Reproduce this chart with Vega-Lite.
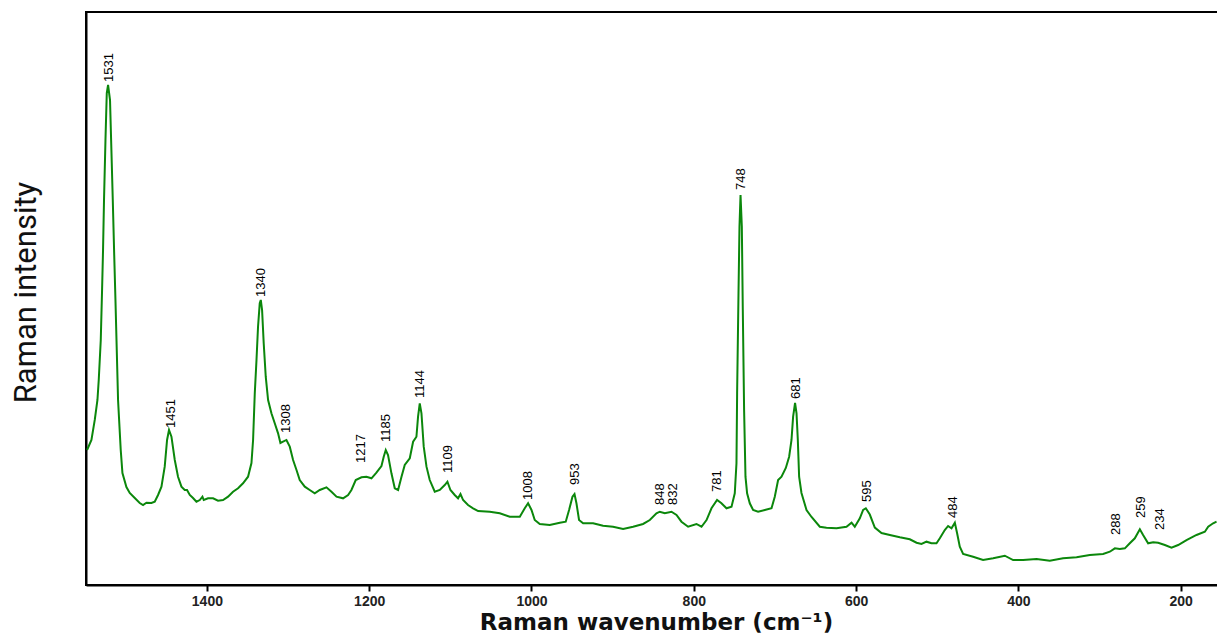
{
  "$schema": "https://vega.github.io/schema/vega-lite/v6.json",
  "width": 1132,
  "height": 573,
  "autosize": {"type": "none"},
  "padding": {"left": 86, "top": 12, "right": 0, "bottom": 55},
  "background": "white",
  "config": {
    "view": {"stroke": "black", "strokeWidth": 2},
    "axis": {"grid": false}
  },
  "datasets": {
    "spectrum": [
      {"wn":1547.7,"I":23.56},{"wn":1542.3,"I":25.31},{"wn":1538.2,"I":28.80},{"wn":1534.9,"I":32.29},{"wn":1533.3,"I":35.78},
      {"wn":1530.8,"I":42.76},{"wn":1529.2,"I":51.48},{"wn":1528.0,"I":58.46},{"wn":1526.8,"I":67.19},{"wn":1525.0,"I":77.66},
      {"wn":1523.4,"I":85.86},{"wn":1521.8,"I":87.26},{"wn":1519.4,"I":84.64},{"wn":1517.7,"I":75.92},{"wn":1516.0,"I":67.19},
      {"wn":1514.4,"I":58.46},{"wn":1512.7,"I":49.74},{"wn":1511.1,"I":41.01},{"wn":1509.5,"I":32.29},{"wn":1506.2,"I":23.56},
      {"wn":1504.1,"I":19.55},{"wn":1499.2,"I":17.10},{"wn":1495.1,"I":16.06},{"wn":1488.9,"I":15.18},{"wn":1482.8,"I":14.31},
      {"wn":1478.7,"I":13.96},{"wn":1474.5,"I":14.36},{"wn":1468.4,"I":14.31},{"wn":1464.3,"I":14.54},{"wn":1460.2,"I":15.71},
      {"wn":1456.0,"I":17.16},{"wn":1452.0,"I":20.65},{"wn":1449.1,"I":25.31},{"wn":1446.7,"I":27.05},{"wn":1443.7,"I":25.88},
      {"wn":1439.6,"I":21.82},{"wn":1435.6,"I":18.90},{"wn":1431.4,"I":17.16},{"wn":1427.3,"I":16.58},{"wn":1424.5,"I":16.58},
      {"wn":1421.1,"I":15.71},{"wn":1417.1,"I":15.18},{"wn":1412.9,"I":14.54},{"wn":1408.8,"I":14.83},{"wn":1405.5,"I":15.41},
      {"wn":1403.9,"I":14.83},{"wn":1398.6,"I":15.13},{"wn":1392.4,"I":15.13},{"wn":1386.3,"I":14.71},{"wn":1380.1,"I":14.83},
      {"wn":1373.9,"I":15.41},{"wn":1367.8,"I":16.28},{"wn":1361.6,"I":16.88},{"wn":1355.5,"I":17.75},{"wn":1349.3,"I":18.90},
      {"wn":1345.1,"I":21.29},{"wn":1343.1,"I":25.31},{"wn":1341.0,"I":33.51},{"wn":1338.9,"I":39.27},{"wn":1337.0,"I":45.08},
      {"wn":1334.9,"I":49.16},{"wn":1333.6,"I":49.74},{"wn":1332.0,"I":47.99},{"wn":1330.0,"I":42.18},{"wn":1327.5,"I":36.35},
      {"wn":1324.6,"I":32.29},{"wn":1320.5,"I":29.97},{"wn":1316.4,"I":28.22},{"wn":1312.3,"I":26.47},{"wn":1309.4,"I":24.78},
      {"wn":1306.2,"I":25.01},{"wn":1302.0,"I":25.31},{"wn":1297.9,"I":24.14},{"wn":1293.8,"I":21.82},{"wn":1289.6,"I":20.07},
      {"wn":1285.6,"I":18.32},{"wn":1279.4,"I":17.16},{"wn":1273.3,"I":16.58},{"wn":1267.1,"I":16.00},{"wn":1260.9,"I":16.58},
      {"wn":1252.7,"I":17.05},{"wn":1246.5,"I":16.28},{"wn":1240.3,"I":15.41},{"wn":1232.2,"I":15.13},{"wn":1226.0,"I":15.71},
      {"wn":1221.9,"I":16.58},{"wn":1216.6,"I":18.32},{"wn":1209.5,"I":18.80},{"wn":1203.4,"I":18.90},{"wn":1197.2,"I":18.62},
      {"wn":1191.1,"I":19.60},{"wn":1184.9,"I":20.77},{"wn":1182.1,"I":22.39},{"wn":1179.6,"I":23.56},{"wn":1176.8,"I":22.69},
      {"wn":1172.6,"I":19.49},{"wn":1168.5,"I":16.88},{"wn":1164.4,"I":16.58},{"wn":1160.2,"I":18.90},{"wn":1156.2,"I":20.94},
      {"wn":1150.0,"I":22.11},{"wn":1145.9,"I":25.01},{"wn":1141.8,"I":25.88},{"wn":1139.8,"I":29.37},{"wn":1137.7,"I":31.71},
      {"wn":1135.6,"I":29.97},{"wn":1132.8,"I":24.14},{"wn":1129.4,"I":20.65},{"wn":1125.4,"I":18.32},{"wn":1119.2,"I":16.28},
      {"wn":1113.0,"I":16.58},{"wn":1106.9,"I":17.45},{"wn":1103.6,"I":18.03},{"wn":1099.9,"I":16.58},{"wn":1094.6,"I":15.71},
      {"wn":1090.5,"I":15.13},{"wn":1087.5,"I":15.88},{"wn":1084.3,"I":14.83},{"wn":1078.2,"I":13.96},{"wn":1072.0,"I":13.39},
      {"wn":1065.8,"I":12.91},{"wn":1051.4,"I":12.79},{"wn":1039.1,"I":12.51},{"wn":1026.8,"I":11.92},{"wn":1014.4,"I":11.92},
      {"wn":1008.3,"I":13.39},{"wn":1004.2,"I":14.26},{"wn":1000.0,"I":13.09},{"wn":996.0,"I":11.34},{"wn":989.8,"I":10.65},
      {"wn":977.5,"I":10.47},{"wn":965.1,"I":10.87},{"wn":957.8,"I":11.05},{"wn":953.7,"I":13.09},{"wn":949.5,"I":15.41},
      {"wn":947.0,"I":15.88},{"wn":944.6,"I":14.26},{"wn":941.4,"I":11.34},{"wn":936.4,"I":10.77},{"wn":924.1,"I":10.77},
      {"wn":911.8,"I":10.35},{"wn":899.5,"I":10.17},{"wn":887.1,"I":9.77},{"wn":874.8,"I":10.17},{"wn":862.5,"I":10.65},
      {"wn":854.2,"I":11.34},{"wn":846.0,"I":12.51},{"wn":841.9,"I":12.79},{"wn":835.7,"I":12.51},{"wn":827.5,"I":12.79},
      {"wn":821.3,"I":12.22},{"wn":815.2,"I":11.05},{"wn":807.0,"I":10.17},{"wn":796.7,"I":10.65},{"wn":790.5,"I":10.17},
      {"wn":784.3,"I":11.34},{"wn":778.2,"I":13.39},{"wn":771.3,"I":14.83},{"wn":765.9,"I":14.26},{"wn":759.7,"I":13.39},
      {"wn":753.5,"I":13.66},{"wn":749.5,"I":16.00},{"wn":747.4,"I":21.24},{"wn":746.6,"I":33.51},{"wn":744.9,"I":50.96},
      {"wn":743.7,"I":62.53},{"wn":742.4,"I":68.06},{"wn":740.8,"I":62.53},{"wn":739.6,"I":47.99},{"wn":738.0,"I":30.54},
      {"wn":736.3,"I":18.90},{"wn":734.3,"I":16.00},{"wn":731.0,"I":14.26},{"wn":726.9,"I":13.09},{"wn":720.8,"I":12.79},
      {"wn":712.5,"I":13.09},{"wn":704.2,"I":13.39},{"wn":700.2,"I":15.41},{"wn":696.1,"I":18.32},{"wn":691.9,"I":18.90},
      {"wn":686.6,"I":20.42},{"wn":682.5,"I":22.39},{"wn":679.6,"I":25.31},{"wn":677.6,"I":29.37},{"wn":675.2,"I":31.76},
      {"wn":673.4,"I":29.97},{"wn":671.8,"I":25.31},{"wn":670.2,"I":18.90},{"wn":667.3,"I":16.06},{"wn":661.1,"I":13.09},
      {"wn":654.9,"I":11.87},{"wn":644.7,"I":10.17},{"wn":636.5,"I":10.00},{"wn":624.1,"I":9.90},{"wn":611.8,"I":10.17},
      {"wn":605.6,"I":10.87},{"wn":601.6,"I":10.17},{"wn":595.4,"I":11.64},{"wn":591.3,"I":13.09},{"wn":588.0,"I":13.39},
      {"wn":583.1,"I":12.30},{"wn":576.9,"I":10.03},{"wn":568.7,"I":9.08},{"wn":558.4,"I":8.73},{"wn":546.1,"I":8.32},
      {"wn":533.8,"I":7.98},{"wn":525.5,"I":7.38},{"wn":519.4,"I":7.16},{"wn":513.2,"I":7.56},{"wn":507.1,"I":7.28},
      {"wn":500.9,"I":7.28},{"wn":496.8,"I":8.15},{"wn":490.7,"I":9.60},{"wn":486.6,"I":10.30},{"wn":482.4,"I":9.90},
      {"wn":478.3,"I":10.87},{"wn":475.5,"I":9.02},{"wn":472.2,"I":6.68},{"wn":468.1,"I":5.41},{"wn":455.8,"I":4.94},
      {"wn":443.5,"I":4.36},{"wn":431.1,"I":4.66},{"wn":416.7,"I":5.11},{"wn":406.5,"I":4.36},{"wn":394.2,"I":4.36},
      {"wn":377.6,"I":4.54},{"wn":361.3,"I":4.24},{"wn":344.9,"I":4.66},{"wn":328.3,"I":4.83},{"wn":312.0,"I":5.24},
      {"wn":295.6,"I":5.41},{"wn":287.3,"I":5.81},{"wn":281.1,"I":6.40},{"wn":275.0,"I":6.28},{"wn":268.8,"I":6.40},
      {"wn":262.7,"I":7.28},{"wn":256.5,"I":8.15},{"wn":250.3,"I":9.72},{"wn":246.3,"I":8.73},{"wn":240.1,"I":7.28},
      {"wn":233.9,"I":7.45},{"wn":227.8,"I":7.38},{"wn":219.5,"I":6.98},{"wn":211.3,"I":6.51},{"wn":203.1,"I":6.98},
      {"wn":192.8,"I":7.85},{"wn":180.5,"I":8.73},{"wn":170.2,"I":9.30},{"wn":166.1,"I":10.17},{"wn":160.0,"I":10.77},
      {"wn":155.8,"I":11.05}
    ],
    "peaks": [
      {"pos":1521.0,"ly":87.78,"label":"1531"},
      {"pos":1444.6,"ly":27.40,"label":"1451"},
      {"pos":1333.6,"ly":50.26,"label":"1340"},
      {"pos":1302.0,"ly":26.53,"label":"1308"},
      {"pos":1209.5,"ly":21.29,"label":"1217"},
      {"pos":1179.6,"ly":24.96,"label":"1185"},
      {"pos":1137.1,"ly":32.64,"label":"1144"},
      {"pos":1103.2,"ly":19.55,"label":"1109"},
      {"pos":1004.2,"ly":14.83,"label":"1008"},
      {"pos":946.7,"ly":17.45,"label":"953"},
      {"pos":841.9,"ly":13.96,"label":"848"},
      {"pos":825.5,"ly":13.96,"label":"832"},
      {"pos":772.0,"ly":16.23,"label":"781"},
      {"pos":742.1,"ly":68.94,"label":"748"},
      {"pos":674.3,"ly":32.46,"label":"681"},
      {"pos":586.8,"ly":14.49,"label":"595"},
      {"pos":480.4,"ly":11.69,"label":"484"},
      {"pos":279.1,"ly":8.73,"label":"288"},
      {"pos":249.1,"ly":11.69,"label":"259"},
      {"pos":225.7,"ly":9.60,"label":"234"}
    ]
  },
  "layer": [
    {
      "data": {"name": "spectrum"},
      "mark": {"type": "line", "color": "#0b870b", "strokeWidth": 2, "clip": true},
      "encoding": {
        "x": {
          "field": "wn", "type": "quantitative",
          "scale": {"domain": [1549, 154], "nice": false, "zero": false},
          "axis": {
            "values": [1400, 1200, 1000, 800, 600, 400, 200],
            "format": "d",
            "labelFont": "Liberation Sans", "labelFontWeight": "bold", "labelFontSize": 14, "labelColor": "#222",
            "labelPadding": 3,
            "tickSize": 6, "tickColor": "black", "tickWidth": 2,
            "domainColor": "black", "domainWidth": 2,
            "title": "Raman wavenumber (cm⁻¹)",
            "titleFont": "DejaVu Sans", "titleFontWeight": "bold", "titleFontSize": 23, "titleColor": "#111",
            "titleX": 570, "titleY": 44, "titleBaseline": "alphabetic", "titleAlign": "center"
          }
        },
        "y": {
          "field": "I", "type": "quantitative",
          "scale": {"domain": [0, 100], "nice": false, "zero": false},
          "axis": {
            "labels": false, "ticks": false,
            "domainColor": "black", "domainWidth": 2,
            "title": "Raman intensity",
            "titleFont": "Roboto", "titleFontWeight": "normal", "titleFontSize": 31, "titleColor": "#111",
            "titleX": -51, "titleY": 280, "titleAngle": 270, "titleBaseline": "alphabetic", "titleAlign": "center"
          }
        }
      }
    },
    {
      "data": {"name": "peaks"},
      "mark": {"type": "text", "angle": 270, "align": "left", "baseline": "middle",
               "font": "Liberation Sans", "fontSize": 13, "color": "#000"},
      "encoding": {
        "x": {"field": "pos", "type": "quantitative"},
        "y": {"field": "ly", "type": "quantitative"},
        "text": {"field": "label", "type": "nominal"}
      }
    }
  ]
}
